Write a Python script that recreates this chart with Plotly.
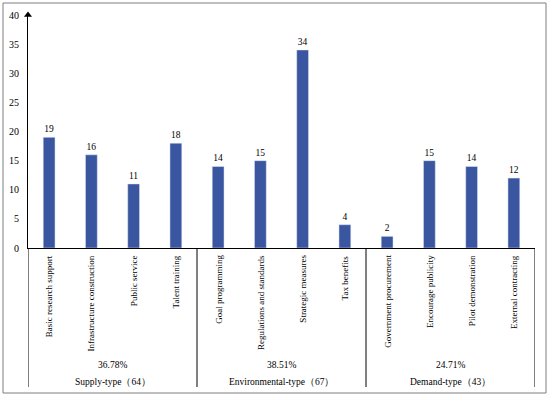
import plotly.graph_objects as go

categories = ["Basic research support", "Infrastructure construction", "Public service", "Talent training",
              "Goal programming", "Regulations and standards", "Strategic measures", "Tax benefits",
              "Government procurement", "Encourage publicity", "Pilot demonstration", "External contracting"]
values = [19, 16, 11, 18, 14, 15, 34, 4, 2, 15, 14, 12]
groups = ["Supply-type\uff0864\uff09", "Environmental-type\uff0867\uff09", "Demand-type\uff0843\uff09"]
group_pct = ["36.78%", "38.51%", "24.71%"]
group_size = [4, 4, 4]
y_ticks = [0, 5, 10, 15, 20, 25, 30, 35, 40]

FONT = "Liberation Serif, Times New Roman, serif"
W, H = 550, 397
L, R, T, B = 28, 15, 15, 149
pw, ph = W - L - R, H - T - B

def px2x(px):
    return (px - L) / pw

def py2y(py):
    return (H - B - py) / ph

fig = go.Figure()
fig.add_trace(go.Bar(
    x=list(range(len(categories))), y=values,
    marker_color="#3B56A0", width=0.28,
    text=[str(v) for v in values], textposition="outside",
    textfont=dict(family=FONT, size=9.5, color="black"),
    cliponaxis=False, showlegend=False,
))
fig.add_trace(go.Scatter(x=[-0.5], y=[40], mode="markers",
                         marker=dict(symbol="triangle-up", size=7, color="black"),
                         cliponaxis=False, showlegend=False, hoverinfo="skip"))

shapes = []
annotations = []
start = 0
bounds = [-0.5]
for g in group_size:
    start += g
    bounds.append(start - 0.5)
for b in bounds:
    shapes.append(dict(type="line", xref="x", yref="paper", x0=b, x1=b,
                       y0=0, y1=py2y(387), line=dict(color="black", width=1)))
for i, (name, pct) in enumerate(zip(groups, group_pct)):
    cx = (bounds[i] + bounds[i + 1]) / 2
    annotations.append(dict(x=cx, y=py2y(365), xref="x", yref="paper", text=pct, showarrow=False,
                            yanchor="middle", font=dict(family=FONT, size=9.5, color="black")))
    annotations.append(dict(x=cx, y=py2y(382), xref="x", yref="paper", text=name, showarrow=False,
                            yanchor="middle", font=dict(family=FONT, size=9.5, color="black")))
for i, c in enumerate(categories):
    annotations.append(dict(x=i, y=py2y(253), xref="x", yref="paper", text=c, showarrow=False,
                            textangle=-90, yanchor="top", xanchor="center",
                            font=dict(family=FONT, size=9, color="black")))
shapes.append(dict(type="rect", xref="paper", yref="paper", x0=px2x(3), x1=px2x(546),
                   y0=py2y(393), y1=py2y(3), line=dict(color="#7f7f7f", width=1)))

fig.update_layout(
    width=W, height=H, margin=dict(l=L, r=R, t=T, b=B, autoexpand=False),
    paper_bgcolor="white", plot_bgcolor="white",
    shapes=shapes, annotations=annotations,
    xaxis=dict(range=[-0.5, len(categories) - 0.5], showticklabels=False, showgrid=False,
               zeroline=False, showline=True, linecolor="black", linewidth=1, ticks=""),
    yaxis=dict(range=[0, 40], tickvals=y_ticks, showgrid=False, zeroline=False,
               showline=True, linecolor="black", linewidth=1, ticks="", ticklabelstandoff=6,
               tickfont=dict(family=FONT, size=10, color="black")),
)
fig.write_html("out.html", config={"displayModeBar": False},
               post_script="document.body.style.margin='0';document.body.style.overflow='hidden';")
